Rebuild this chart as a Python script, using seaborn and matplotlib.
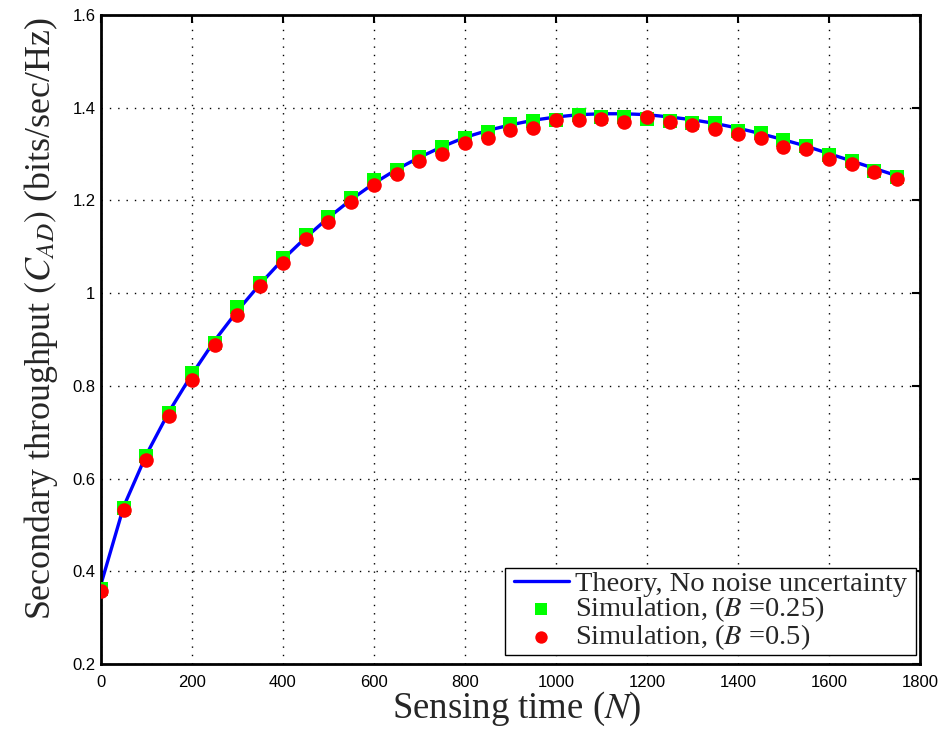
import numpy as np
import pandas as pd
import matplotlib
matplotlib.use("Agg")
import matplotlib.pyplot as plt
from matplotlib.path import Path
import seaborn as sns

# Sensing time samples
N = [0, 50, 100, 150, 200, 250, 300, 350, 400, 450, 500, 550, 600, 650, 700,
     750, 800, 850, 900, 950, 1000, 1050, 1100, 1150, 1200, 1250, 1300, 1350,
     1400, 1450, 1500, 1550, 1600, 1650, 1700, 1750]

# Analytical throughput, no noise uncertainty
theory = [0.372, 0.540, 0.652, 0.745, 0.825, 0.898, 0.962, 1.020, 1.073, 1.120,
          1.163, 1.202, 1.237, 1.267, 1.293, 1.316, 1.336, 1.351, 1.363, 1.373,
          1.380, 1.385, 1.387, 1.387, 1.385, 1.380, 1.374, 1.366, 1.356, 1.344,
          1.331, 1.317, 1.301, 1.285, 1.269, 1.253]

# Simulated throughput, B = 0.25
sim_b025 = [0.361, 0.536, 0.649, 0.741, 0.828, 0.893, 0.971, 1.021, 1.075, 1.125,
            1.165, 1.205, 1.244, 1.266, 1.294, 1.315, 1.334, 1.348, 1.365, 1.371,
            1.373, 1.384, 1.379, 1.379, 1.375, 1.371, 1.366, 1.367, 1.350, 1.345,
            1.330, 1.317, 1.298, 1.284, 1.264, 1.251]

# Simulated throughput, B = 0.5
sim_b05 = [0.358, 0.532, 0.640, 0.735, 0.813, 0.888, 0.953, 1.016, 1.064, 1.116,
           1.153, 1.197, 1.233, 1.258, 1.284, 1.300, 1.323, 1.334, 1.352, 1.357,
           1.373, 1.373, 1.375, 1.369, 1.379, 1.370, 1.362, 1.354, 1.343, 1.334,
           1.315, 1.310, 1.289, 1.279, 1.261, 1.247]

x_ticks = [0, 200, 400, 600, 800, 1000, 1200, 1400, 1600, 1800]
y_ticks = [0.2, 0.4, 0.6, 0.8, 1.0, 1.2, 1.4, 1.6]
y_tick_labels = ["0.2", "0.4", "0.6", "0.8", "1", "1.2", "1.4", "1.6"]

df = pd.DataFrame({"N": N, "theory": theory, "b025": sim_b025, "b05": sim_b05})

sns.set_theme(style="white")
plt.rcParams["mathtext.fontset"] = "stix"
plt.rcParams["font.family"] = ["Liberation Sans", "DejaVu Sans"]

fig = plt.figure(figsize=(9.5, 7.29), dpi=100)
ax = fig.add_axes([0.1063, 0.0892, 0.8621, 0.8902])

sns.lineplot(data=df, x="N", y="theory", ax=ax, color="#0000FF", linewidth=2.4,
             label="Theory, No noise uncertainty", zorder=2)
sns.scatterplot(data=df, x="N", y="b025", ax=ax, marker="s", color="#00FF00",
                s=90, linewidth=0, label=r"Simulation, ($B$ =0.25)", zorder=3)
sns.scatterplot(data=df, x="N", y="b05", ax=ax, marker="o", color="#FF0000",
                s=110, linewidth=0, label=r"Simulation, ($B$ =0.5)", zorder=4)

ax.set_xlim(0, 1800)
ax.set_ylim(0.2, 1.6)
ax.set_xticks(x_ticks)
ax.set_yticks(y_ticks)
ax.set_yticklabels(y_tick_labels)
ax.tick_params(direction="in", length=6, width=1.5, top=True, right=True,
               labelsize=12, colors="black")
ax.tick_params(axis="x", pad=8)
ax.tick_params(axis="y", pad=4)
for sp in ax.spines.values():
    sp.set_linewidth(2.0)
    sp.set_color("black")

ax.grid(True, linestyle=(0, (1, 5)), color="black", linewidth=1.0)
ax.set_axisbelow(True)

ax.set_xlabel(r"Sensing time ($N$)", fontsize=26.5, family="Liberation Serif",
              labelpad=0)
ax.xaxis.label.set_x(0.508)
ax.set_ylabel(r"Secondary throughput $\left(C_{AD}\right)$ (bits/sec/Hz)",
              fontsize=25.8, family="Liberation Serif")
ax.yaxis.set_label_coords(-0.05, 0.532)


def wide_box(x0, y0, width, height, mutation_size):
    """Rectangle with extra horizontal padding only."""
    px = 0.23 * mutation_size
    verts = [(x0 - px, y0), (x0 + width + px, y0),
             (x0 + width + px, y0 + height), (x0 - px, y0 + height),
             (x0 - px, y0)]
    return Path(verts, closed=True)


leg = ax.legend(loc="lower right", bbox_to_anchor=(0.9871, 0.0139),
                borderaxespad=0, frameon=True, fancybox=False, shadow=False,
                prop={"family": "Liberation Serif", "size": 20.5},
                handlelength=1.95, labelspacing=-0.065, borderpad=0.09,
                handletextpad=0.2, markerscale=0.85)
leg.get_frame().set_boxstyle(wide_box)
leg.get_frame().set_edgecolor("black")
leg.get_frame().set_linewidth(1.0)
leg.get_frame().set_alpha(1)

fig.savefig("out.png", dpi=100)
